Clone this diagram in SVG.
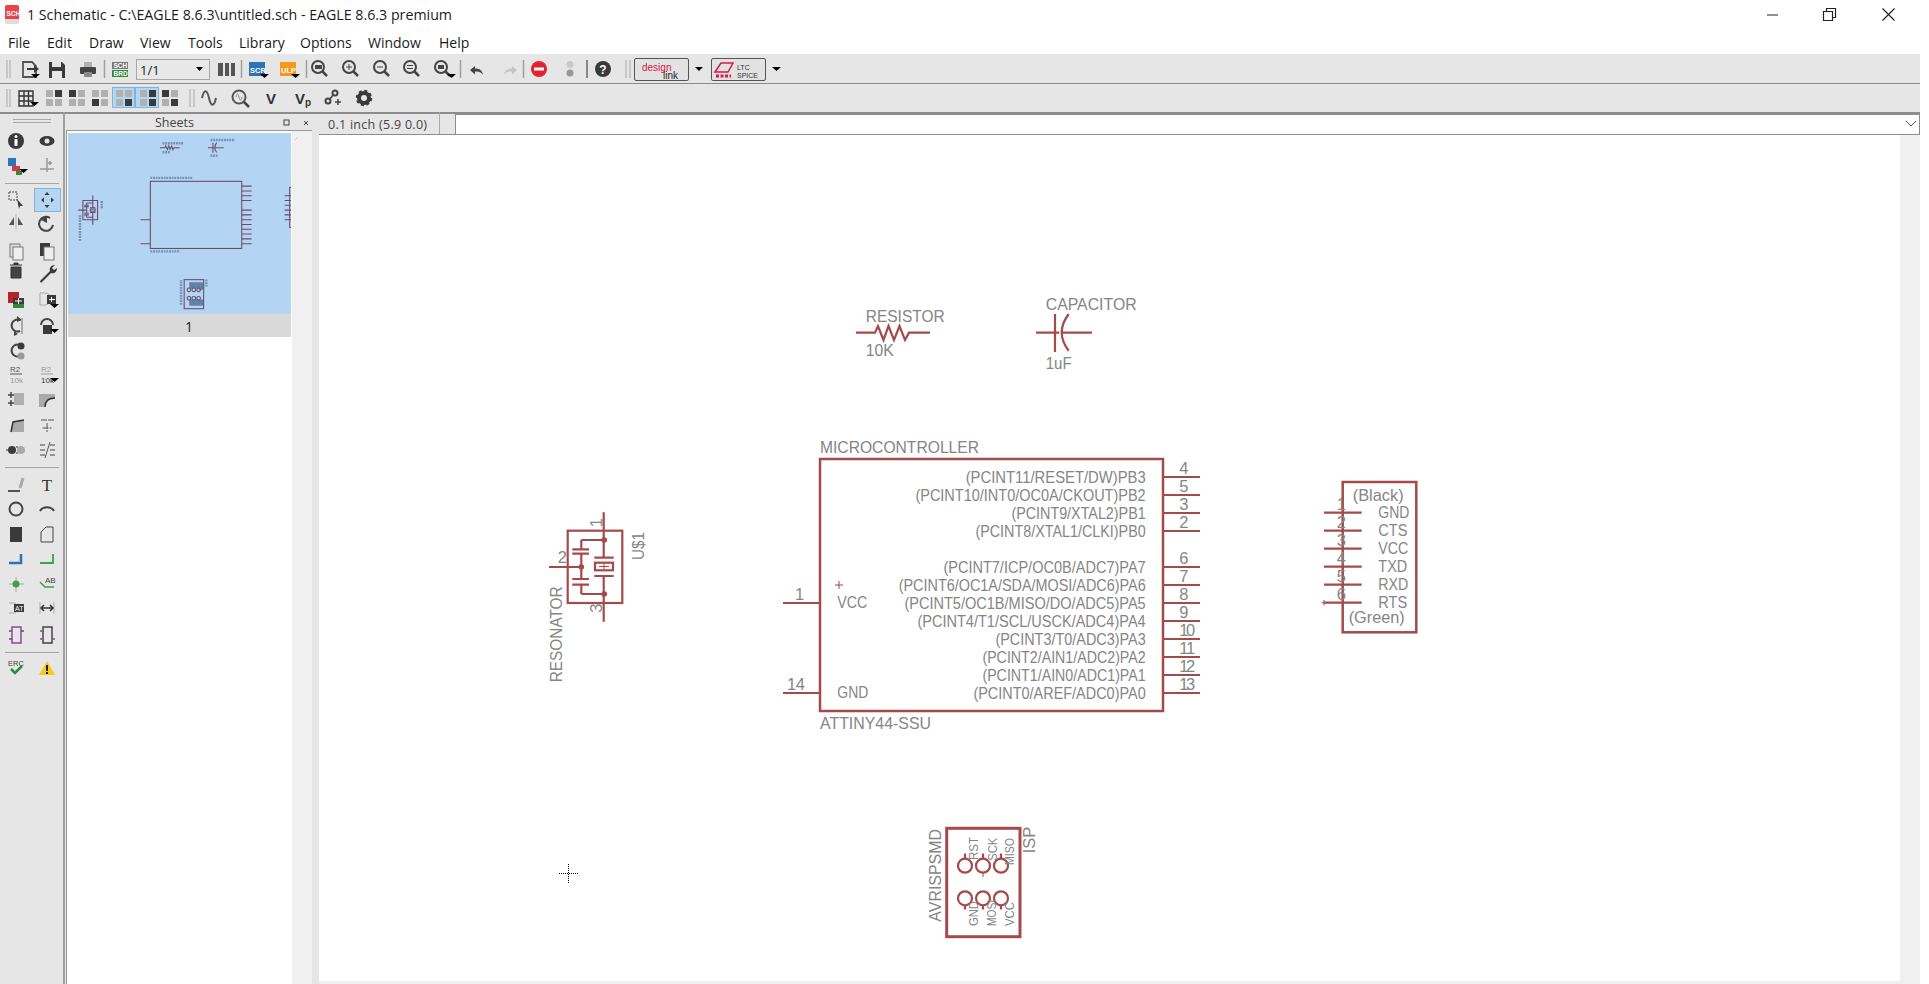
<svg xmlns="http://www.w3.org/2000/svg" width="1929" height="984" viewBox="0 0 1929 984">
<style>
text{font-family:"Liberation Sans",Arial,sans-serif}
.ui{font-family:"Open Sans","Noto Sans",sans-serif;fill:#1a1a1a;font-size:14px}
.p{fill:none;stroke:#a54a4a;stroke-width:2.2}
.pt{fill:none;stroke:#a54a4a;stroke-width:1}
.t{fill:#858585;font-size:16.5px}
.t2{fill:#858585;font-size:13px}
.sep{stroke:#a0a0a0;stroke-width:1.5}
.grip{stroke:#a8a8a8;stroke-width:1}
.dk{fill:#3a3a3a}
.dkl{fill:none;stroke:#3a3a3a;stroke-width:2}
.gl{fill:none;stroke:#999;stroke-width:1.5}
.lg{fill:#b0b0b0}
.tri{fill:#000}
.th{fill:none;stroke:#6e4a6e;stroke-width:4}
.tht{fill:none;stroke:#6f95b8;stroke-width:9;stroke-dasharray:7 3}
.hl{fill:#b5d5f0;stroke:#7db5e0;stroke-width:1}
.ic{font-weight:bold}
</style>
<defs>
<clipPath id="thumbclip"><rect x="68" y="133" width="223" height="181"/></clipPath>
<g id="quad"><rect x="0" y="0" width="7" height="7" class="lg"/><rect x="9" y="0" width="7" height="7" class="lg"/><rect x="0" y="9" width="7" height="7" class="lg"/><rect x="9" y="9" width="7" height="7" class="lg"/></g>
<g id="mag"><circle cx="-2" cy="-2" r="6" fill="none" stroke="#444" stroke-width="2"/><path d="M2.500 2.500L7 7" stroke="#444" stroke-width="2.500"/></g>
</defs>
<rect width="1929" height="984" fill="#fff"/>

<g id="titlebar">
<rect x="5" y="5" width="14" height="18" rx="2" fill="#e8454a"/><path d="M5 19h14v3a2 2 0 0 1-2 2H7a2 2 0 0 1-2-2z" fill="#ddd"/>
<text x="6.500" y="16" font-size="6.500" fill="#fff" class="ic">SCH</text>
<text x="27" y="20" class="ui" textLength="425" lengthAdjust="spacingAndGlyphs">1 Schematic - C:\EAGLE 8.6.3\untitled.sch - EAGLE 8.6.3 premium</text>
<path d="M1767 15h11" stroke="#222" stroke-width="1"/>
<path d="M1823.500 11.500h9v9h-9zM1826.500 11.500v-3h9v9h-3" fill="none" stroke="#222" stroke-width="1.200"/>
<path d="M1882.500 8.500l12 12M1894.500 8.500l-12 12" stroke="#222" stroke-width="1.200"/>
</g>
<g id="menubar">
<text x="8" y="48" class="ui">File</text><text x="47" y="48" class="ui">Edit</text><text x="89" y="48" class="ui">Draw</text><text x="140" y="48" class="ui">View</text><text x="188" y="48" class="ui">Tools</text><text x="239" y="48" class="ui">Library</text><text x="300" y="48" class="ui">Options</text><text x="368" y="48" class="ui">Window</text><text x="439" y="48" class="ui">Help</text>
</g>

<g id="chrome">
<rect x="0" y="54" width="1920" height="58" fill="#e6e6e6"/>
<rect x="0" y="83" width="1920" height="1" fill="#8c8c8c"/>
<rect x="0" y="112" width="1920" height="2" fill="#8c8c8c"/>
<rect x="0" y="114" width="1920" height="870" fill="#e6e6e6"/>
<rect x="63" y="112" width="2" height="872" fill="#a0a0a0"/>
<rect x="66" y="130" width="226" height="854" fill="#fff"/>
<rect x="292" y="131" width="20" height="853" fill="#f0f0f0"/>
<path d="M66 130.500H312" stroke="#999"/><path d="M66.500 130V984" stroke="#999"/>
<text x="155" y="127" class="ui" style="fill:#444;font-size:12.500px">Sheets</text>
<rect x="284" y="120" width="5" height="5" fill="none" stroke="#444"/><path d="M304 121l4 4m0-4l-4 4" stroke="#444"/>
<text x="328" y="129" class="ui" style="fill:#444;font-size:12.500px" textLength="99">0.1 inch (5.9 0.0)</text>
<rect x="439" y="112" width="1" height="23" fill="#aaa"/>
<rect x="455.500" y="114.500" width="1464" height="20" fill="#fff" stroke="#8c8c8c"/>
<path d="M1906 121l5 5 5-5" fill="none" stroke="#555"/>
<path d="M319 134.500H456" stroke="#8c8c8c"/>
<rect x="319" y="135" width="1581" height="846" fill="#fff"/>
<rect x="1900" y="135" width="20" height="849" fill="#f0f0f0"/>
<rect x="319" y="981" width="1601" height="3" fill="#f0f0f0"/>
</g>

<g id="toolbar1">
<path d="M7 60v18M10 60v18" class="grip"/>
<path d="M23 62h9l4 4v11H23z" fill="none" stroke="#555" stroke-width="1.800"/><path d="M27 68h7v-3l5 4-5 4v-3h-7z" class="dk"/><path d="M31 74h9l-4.500 4z" class="tri"/>
<path d="M49 62h13l3 3v13H49z" class="dk"/><rect x="52" y="62" width="9" height="5" fill="#e6e6e6"/><rect x="52" y="71" width="10" height="7" fill="#e6e6e6"/>
<path d="M84 62h8v5h-8z" class="lg"/><rect x="80" y="67" width="16" height="7" rx="1" fill="#444"/><rect x="84" y="72" width="8" height="5" fill="#888"/>
<path d="M104.500 60v18" class="sep"/>
<rect x="112" y="62" width="16" height="7" fill="#777"/><rect x="112" y="70" width="16" height="7" fill="#2f8a3c"/>
<text x="113.500" y="68" font-size="6.500" fill="#fff" class="ic">SCH</text><text x="113.500" y="76" font-size="6.500" fill="#fff" class="ic">BRD</text>
<rect x="136.500" y="59.500" width="73" height="20" fill="#e8e8e8" stroke="#a8a8a8"/>
<text x="140" y="75" class="ui" style="font-size:13px">1/1</text><path d="M196 67h7l-3.500 4z" class="tri"/>
<path d="M218 63h5v13h-5zM225 63h4v13h-4zM231 63h4v13h-4z" fill="#555"/>
<path d="M241.500 60v18" class="sep"/>
<rect x="249" y="62" width="16" height="14" fill="#2f72b8"/><text x="250" y="73" font-size="7.500" fill="#fff" class="ic">SCR</text><path d="M260 74h9l-4.500 4z" class="tri"/>
<rect x="280" y="62" width="16" height="14" fill="#f39a1c"/><text x="281" y="73" font-size="7.500" fill="#fff" class="ic">ULP</text><path d="M291 74h9l-4.500 4z" class="tri"/>
<path d="M306.500 60v18" class="sep"/>
<use href="#mag" x="320" y="69"/><rect x="315" y="65" width="7" height="4" fill="#444"/>
<use href="#mag" x="351" y="69"/><path d="M346 67h6M349 64v6" stroke="#444"/>
<use href="#mag" x="382" y="69"/><path d="M377 67h6" stroke="#444"/>
<use href="#mag" x="412" y="69"/><path d="M407 65.500h6M407 68.500h6" stroke="#444"/>
<use href="#mag" x="443" y="69"/><rect x="438" y="65" width="6" height="4" fill="#444"/><path d="M447 74h9l-4.500 4z" class="tri"/>
<path d="M460.500 60v18" class="sep"/>
<path d="M470 70l5-4v2.500c5 0 7 2 8 6-2.500-2.500-4-3-8-3v3z" fill="#444"/>
<path d="M517 70l-5-4v2.500c-5 0-7 2-8 6 2.500-2.500 4-3 8-3v3z" fill="#c4c4c4"/>
<path d="M523.500 60v18" class="sep"/>
<circle cx="539" cy="69" r="8" fill="#e2232e"/><rect x="534" y="67.500" width="10" height="3" fill="#fff"/>
<circle cx="570" cy="64.500" r="3.500" fill="#c8c8c8"/><circle cx="570" cy="73" r="3.500" fill="#999"/>
<path d="M587 60v18" stroke="#888" stroke-width="2"/>
<circle cx="603" cy="69" r="8" fill="#3a3a3a"/><text x="603" y="73.500" font-size="12" fill="#fff" text-anchor="middle" class="ic">?</text>
<path d="M626 60v18M630 60v18" class="grip"/>
<rect x="634.500" y="58.500" width="54" height="22" rx="1.500" fill="#e2e2e2" stroke="#555"/>
<text x="642" y="71" font-size="10" fill="#d8174a">design</text><text x="663" y="79" font-size="10" fill="#222">link</text>
<path d="M695 67h8l-4 4z" class="tri"/>
<rect x="711.500" y="58.500" width="54" height="22" rx="1.500" fill="#e2e2e2" stroke="#555"/>
<path d="M715 72l6-9h12l-5 9z" fill="none" stroke="#d8174a" stroke-width="1.500"/><path d="M716 76h15" stroke="#d8174a" stroke-width="3" stroke-dasharray="3 1.500"/>
<text x="737" y="70" font-size="7" fill="#333">LTC</text><text x="737" y="78" font-size="7" fill="#333">SPICE</text>
<path d="M772 67h9l-4.500 4z" class="tri"/>
</g>

<g id="toolbar2">
<path d="M7 89v18M10 89v18" class="grip"/>
<path d="M19 91h14v15H19zM19 96h14M19 101h14M24 91v15M28.500 91v15" fill="none" stroke="#333" stroke-width="1.400"/><path d="M30 102h9l-4.500 4z" class="tri"/>
<use href="#quad" x="46" y="90"/><rect x="55" y="90" width="7" height="7" class="dk"/>
<use href="#quad" x="69" y="90"/><rect x="69" y="90" width="7" height="7" class="dk"/>
<use href="#quad" x="92" y="90"/><rect x="92" y="99" width="7" height="7" class="dk"/>
<rect x="112.500" y="87.500" width="22" height="20" class="hl"/><use href="#quad" x="116" y="90"/><rect x="125" y="99" width="7" height="7" class="dk"/>
<rect x="135.500" y="87.500" width="23" height="20" class="hl"/><use href="#quad" x="140" y="90"/><rect x="149" y="90" width="7" height="7" class="dk"/><rect x="149" y="99" width="7" height="7" class="dk"/>
<use href="#quad" x="162" y="90"/><rect x="162" y="90" width="7" height="7" class="dk"/><rect x="171" y="99" width="7" height="7" class="dk"/>
<path d="M190 89v18M194 89v18" class="grip"/>
<path d="M202 98c2-9 5-9 7 0s5 9 7 0" fill="none" stroke="#555" stroke-width="2"/>
<circle cx="239" cy="97" r="6.500" fill="none" stroke="#555" stroke-width="2"/><path d="M236 97c1-4 2-4 3 0s2 4 3 0" fill="none" stroke="#888"/><path d="M244 102l5 5" stroke="#444" stroke-width="2.500"/>
<text x="271" y="104" font-size="15" fill="#333" text-anchor="middle" class="ic">V</text>
<text x="295" y="104" font-size="15" fill="#333" class="ic">V</text><text x="305" y="106" font-size="10" fill="#333" class="ic">p</text>
<circle cx="328" cy="101" r="2.500" fill="none" stroke="#444" stroke-width="2"/><circle cx="335" cy="93" r="2.500" fill="none" stroke="#444" stroke-width="2"/><path d="M330 99l3-4M335 102h6M338 99v6" stroke="#444" stroke-width="1.500"/>
<circle cx="364" cy="98" r="5" fill="none" stroke="#3a3a3a" stroke-width="4"/><circle cx="364" cy="98" r="7" fill="none" stroke="#3a3a3a" stroke-width="2.500" stroke-dasharray="3 2.500"/>
</g>

<g id="lefttoolbar">
<path d="M13 119.500h38M13 122.500h38" class="grip"/>
<circle cx="16" cy="141" r="8" class="dk"/><rect x="14.500" y="139" width="3" height="7" fill="#fff"/><circle cx="16" cy="136.500" r="1.500" fill="#fff"/>
<ellipse cx="47" cy="141" rx="7.500" ry="5" class="dk"/><circle cx="47" cy="141" r="2.500" fill="#e6e6e6"/>
<rect x="8" y="158" width="8" height="8" fill="#2f72b8"/><rect x="12" y="166" width="8" height="5" fill="#d8344a"/><rect x="16" y="171" width="6" height="4" fill="#2f8a3c"/><path d="M19 169h9l-4.500 4z" class="tri"/>
<path d="M47 158v14M40 169h14M48 163h4M50 161v4" class="gl"/>
<path d="M5 183.500h54" class="grip"/>
<rect x="9" y="192" width="8" height="8" fill="none" stroke="#444" stroke-dasharray="2 1"/><path d="M17 199l6 7-3 0-1 3z" class="dk"/>
<rect x="34.500" y="188.500" width="26" height="23" class="hl"/><path d="M47 192l2.500 3h-5zM47 208l2.500-3h-5zM41 200l3-2.500v5zM54 200l-3-2.500v5z" class="dk"/>
<path d="M14 225v-8l-5 8zM18 225v-8l5 8z" fill="#555"/><path d="M16 214v15" stroke="#ccc" stroke-width="2"/>
<path d="M53 225a7 7 0 1 1-3-7" fill="none" stroke="#444" stroke-width="2"/><path d="M41 220l6-4v7z" fill="#444"/>
<rect x="10" y="244" width="10" height="13" fill="#ddd" stroke="#777"/><rect x="13" y="247" width="10" height="13" fill="#eee" stroke="#777"/>
<rect x="40" y="243" width="10" height="13" class="dk"/><rect x="44" y="247" width="10" height="13" fill="#eee" stroke="#777"/>
<path d="M10 265h12M14 265v-2h4v2M11 267h10v11H11z" fill="#444" stroke="#333"/>
<path d="M40 281l10-10c-1-3 1-6 5-6l-3 3 2 2 3-2c0 4-3 6-6 5l-10 10z" class="dk"/>
<rect x="8" y="292" width="11" height="11" fill="#b8242c"/><rect x="13" y="298" width="11" height="10" fill="#2f8a3c"/><rect x="13" y="298" width="11" height="6" class="dk"/><path d="M15 301h7M18.500 298v6" stroke="#fff"/>
<path d="M40 293h5a6 6 0 0 1 0 12h-5z" fill="none" stroke="#aaa"/><rect x="47" y="295" width="9" height="9" class="dk"/><path d="M49 299.500h6M51.500 297v5" stroke="#fff"/><path d="M50 304h9l-4.500 4z" class="tri"/>
<path d="M20 320a6 6 0 1 0 0 11" fill="none" stroke="#444" stroke-width="2"/><path d="M17 316l5 4-5 2zM14 331l4 3-4 2z" fill="#444"/><path d="M22 318v16" stroke="#aaa" stroke-width="2"/>
<path d="M41 325a6 6 0 0 1 12 0" fill="none" stroke="#444" stroke-width="2"/><rect x="43" y="325" width="9" height="9" class="dk"/><path d="M50 329h9l-4.500 4z" class="tri"/>
<path d="M20 345a6 6 0 1 0 0 11" fill="none" stroke="#444" stroke-width="2"/><circle cx="21" cy="346" r="3.500" class="dk"/><circle cx="21" cy="356" r="3.500" fill="#999"/>
<text x="10" y="372" font-size="8" fill="#555">R2</text><path d="M10 374h12" stroke="#555"/><text x="10" y="383" font-size="8" fill="#999">10k</text>
<text x="41" y="372" font-size="8" fill="#999">R2</text><path d="M41 374h12" stroke="#999"/><text x="41" y="383" font-size="8" fill="#333">10k</text><path d="M50 378h9l-4.500 4z" class="tri"/>
<rect x="14" y="393" width="10" height="12" fill="#b0b0b0"/><path d="M8 395h6M11 392v6M8 403h6M11 400v6" stroke="#444" stroke-width="1.500"/>
<path d="M39 394h16v5c-6 0-10 3-10 8h-6z" fill="#aaa"/><path d="M45 407c0-6 4-9 10-9" fill="none" stroke="#333" stroke-width="1.500"/>
<path d="M11 432l2-10 11-2v12z" fill="#aaa"/><path d="M11 432l2-10 11-2" fill="none" stroke="#333" stroke-width="1.500"/>
<path d="M41 420h14M47 423v9M42.500 428h9" stroke="#555" stroke-dasharray="6 1"/>
<circle cx="12" cy="450" r="4" class="dk"/><path d="M8 450h-2M16 447h2M16 453h2" stroke="#333"/><circle cx="21" cy="450" r="4" fill="#aaa"/>
<path d="M40 445h5M40 450h5M40 455h5M50 445h5M50 450h5M50 455h5" stroke="#444"/><path d="M45 458l5-16" stroke="#555"/>
<path d="M5 467.500h54" class="grip"/>
<path d="M8 491h12" stroke="#222" stroke-width="1.500"/><path d="M20 488l3-10" stroke="#aaa" stroke-width="3"/>
<text x="47" y="491" font-size="17" fill="#333" text-anchor="middle" style="font-family:'Liberation Serif',serif">T</text>
<circle cx="16" cy="509" r="6.500" fill="none" stroke="#444" stroke-width="2"/>
<path d="M40 511c3-5 11-5 14 0" fill="none" stroke="#444" stroke-width="2"/>
<rect x="10" y="527" width="12" height="15" class="dk"/>
<path d="M41 542v-10l5-5h7v15z" fill="none" stroke="#444"/>
<path d="M9 563h12v-9" fill="none" stroke="#2f72b8" stroke-width="2.500"/>
<path d="M40 563h13v-9" fill="none" stroke="#3ea04a" stroke-width="1.800"/>
<path d="M9 584h15M16 577v15" stroke="#aaa"/><circle cx="16" cy="584" r="3.500" fill="#3ea04a"/>
<path d="M40 582l5 5h9" fill="none" stroke="#3ea04a" stroke-width="1.500"/><text x="45" y="583" font-size="8" fill="#444">AB</text>
<path d="M9 603h6a6 6 0 0 1 0 10H9" fill="none" stroke="#aaa"/><rect x="14" y="604" width="10" height="8" class="dk"/><text x="15" y="611" font-size="7" fill="#fff">AT</text>
<path d="M40 602v12M54 602v12" stroke="#aaa"/><path d="M41 608h12M44 605l-3 3 3 3M50 605l3 3-3 3" fill="none" stroke="#333" stroke-width="1.500"/>
<rect x="12" y="627" width="9" height="16" fill="none" stroke="#8a4a9a" stroke-width="1.500"/><path d="M9 631h3M21 631h3M9 639h3" stroke="#555" stroke-width="1.500"/>
<rect x="43" y="627" width="9" height="16" fill="none" stroke="#444" stroke-width="1.500"/><path d="M40 631h3M40 639h3M52 639h3" stroke="#8a4a9a" stroke-width="1.500"/>
<path d="M5 652.500h54" class="grip"/>
<text x="8" y="666" font-size="7.500" fill="#444">ERC</text><path d="M11 669l4 4 7-7" fill="none" stroke="#2f8a3c" stroke-width="2.500"/>
<path d="M47 661l8 14H39z" fill="#f8c81c"/><rect x="46" y="665" width="2" height="6" fill="#222"/><rect x="46" y="672" width="2" height="2" fill="#222"/>
</g>

<g id="sheets-panel">
<rect x="68" y="133" width="223" height="181" fill="#b3d4f2"/>
<rect x="68" y="314" width="223" height="23" fill="#d9d9d9"/>
<text x="189" y="332" font-size="14" fill="#222" text-anchor="middle" class="ui">1</text>
<path d="M295 140l3-3" stroke="#ccc"/>
<g clip-path="url(#thumbclip)"><g transform="translate(-68.200 59) scale(.2665)">
<path class="tht" d="M820 446h159M820 722h111M866 316h79M866 350h28M1046 304h91M1046 363h26M556 682V586M638 560V532"/>
<path fill="none" stroke="#5c84a8" stroke-width="18" d="M975 838V861M993 838V861M1011 838V866M975 902V926M993 902V926M1011 902V926"/>
<path class="tht" d="M935 922V829M1030 854V827"/>
<path class="th" d="M856 333h19l3-7 6 14 5-14 5 14 6-14 5 14 4-7h21M1036 333h23M1062 333h33M1055 314v38M1069 314q-14 19 0 37"/>
<rect class="th" x="820" y="459" width="343" height="252"/>
<path class="th" d="M783 603h37M783 693h37M1163 477h37M1163 495h37M1163 513h37M1163 531h37M1163 567h37M1163 585h37M1163 603h37M1163 621h37M1163 639h37M1163 657h37M1163 675h37M1163 693h37"/>
<path class="th" d="M567 531h55v72h-55zM604 512v45M604 576v46M549 567h32M581 540h23M581 540v9M581 554v25M581 585v9M581 594h23M572 549h17M572 554h17M572 579h17M572 585h17M594 558h20M594 576h20"/><rect class="th" x="595" y="563" width="18" height="8"/>
<rect class="th" x="1343" y="482" width="73" height="150"/><path class="th" d="M1324 513h38M1324 531h38M1324 549h38M1324 567h38M1324 585h38M1324 603h38"/>
<rect class="th" x="947" y="828" width="73" height="109"/>
<g class="th"><circle cx="965" cy="866" r="7"/><circle cx="983" cy="866" r="7"/><circle cx="1001" cy="866" r="7"/><circle cx="965" cy="898" r="7"/><circle cx="983" cy="898" r="7"/><circle cx="1001" cy="898" r="7"/></g>
</g></g>
</g>

<g id="connectors">
<path class="p" d="M783 603h37M783 693h37M1163 477h37M1163 495h37M1163 513h37M1163 531h37M1163 567h37M1163 585h37M1163 603h37M1163 621h37M1163 639h37M1163 657h37M1163 675h37M1163 693h37"/>
<path class="p" d="M1324 512.700h37.700M1324 530.700h37.700M1324 548.700h37.700M1324 566.700h37.700M1324 584.700h37.700M1324 602.700h37.700"/>
</g>

<g id="resistor">
<path class="p" d="M856 332.700h19l3-6.700 5.500 14 5-14 5.500 14 5.500-14 5.500 14 4-7.300h21"/>
<text class="t" x="865.700" y="322" textLength="79" lengthAdjust="spacingAndGlyphs">RESISTOR</text>
<text class="t" x="865.700" y="356" textLength="28" lengthAdjust="spacingAndGlyphs">10K</text>
</g>
<g id="capacitor">
<path class="p" d="M1036 332.700h23.300M1055 314v38M1068.700 314q-14 18.700 0 36.700M1061.700 332.700H1092"/>
<text class="t" x="1045.700" y="310" textLength="91" lengthAdjust="spacingAndGlyphs">CAPACITOR</text>
<text class="t" x="1045.700" y="369" textLength="26" lengthAdjust="spacingAndGlyphs">1uF</text>
</g>
<g id="microcontroller">
<rect class="p" x="820" y="459" width="343" height="252" style="stroke-width:2.500"/>
<text class="t" x="820" y="452.700" textLength="159" lengthAdjust="spacingAndGlyphs">MICROCONTROLLER</text>
<text class="t" x="820" y="728.700" textLength="111" lengthAdjust="spacingAndGlyphs">ATTINY44-SSU</text>
<path class="pt" d="M835 585h8M839 581v8"/>
<text class="t" x="837.300" y="608" textLength="30" lengthAdjust="spacingAndGlyphs">VCC</text>
<text class="t" x="837.300" y="698" textLength="31" lengthAdjust="spacingAndGlyphs">GND</text>
<text class="t" x="795" y="600">1</text><text class="t" x="787" y="690" textLength="18">14</text>
<text class="t" x="965.700" y="483" textLength="180" lengthAdjust="spacingAndGlyphs">(PCINT11/RESET/DW)PB3</text>
<text class="t" x="915.400" y="501" textLength="230.300" lengthAdjust="spacingAndGlyphs">(PCINT10/INT0/OC0A/CKOUT)PB2</text>
<text class="t" x="1011.400" y="519" textLength="134.300" lengthAdjust="spacingAndGlyphs">(PCINT9/XTAL2)PB1</text>
<text class="t" x="975.400" y="537" textLength="170.300" lengthAdjust="spacingAndGlyphs">(PCINT8/XTAL1/CLKI)PB0</text>
<text class="t" x="943.400" y="573" textLength="202.300" lengthAdjust="spacingAndGlyphs">(PCINT7/ICP/OC0B/ADC7)PA7</text>
<text class="t" x="898.700" y="591" textLength="247" lengthAdjust="spacingAndGlyphs">(PCINT6/OC1A/SDA/MOSI/ADC6)PA6</text>
<text class="t" x="904.400" y="609" textLength="241.300" lengthAdjust="spacingAndGlyphs">(PCINT5/OC1B/MISO/DO/ADC5)PA5</text>
<text class="t" x="917.400" y="627" textLength="228.300" lengthAdjust="spacingAndGlyphs">(PCINT4/T1/SCL/USCK/ADC4)PA4</text>
<text class="t" x="995.400" y="645" textLength="150.300" lengthAdjust="spacingAndGlyphs">(PCINT3/T0/ADC3)PA3</text>
<text class="t" x="982.400" y="663" textLength="163.300" lengthAdjust="spacingAndGlyphs">(PCINT2/AIN1/ADC2)PA2</text>
<text class="t" x="982.400" y="681" textLength="163.300" lengthAdjust="spacingAndGlyphs">(PCINT1/AIN0/ADC1)PA1</text>
<text class="t" x="973.400" y="699" textLength="172.300" lengthAdjust="spacingAndGlyphs">(PCINT0/AREF/ADC0)PA0</text>
<text class="t" x="1179.300" y="474">4</text><text class="t" x="1179.300" y="492">5</text><text class="t" x="1179.300" y="510">3</text><text class="t" x="1179.300" y="528">2</text><text class="t" x="1179.300" y="564">6</text><text class="t" x="1179.300" y="582">7</text><text class="t" x="1179.300" y="600">8</text><text class="t" x="1179.300" y="618">9</text>
<text class="t" x="1179.300" y="636" textLength="16">10</text><text class="t" x="1179.300" y="654" textLength="16">11</text><text class="t" x="1179.300" y="672" textLength="16">12</text><text class="t" x="1179.300" y="690" textLength="16">13</text>
</g>
<g id="resonator">
<rect class="p" x="567.700" y="530.700" width="54.600" height="72.300"/>
<path class="p" d="M603.700 512.300v45.400M603.700 576v45.700M549 567h32.300M581.300 540h22.400M581.300 540v9.300M581.300 553.700v25.300M581.300 584.700v9.300M581.300 594h22.400M572.300 549.300H589M572.300 553.700H589M572.300 579H589M572.300 584.700H589M594.300 557.700h19.400M594.300 576h19.400"/>
<path class="pt" d="M599 566.500h10M604 563.500v6"/>
<rect class="p" x="595" y="562.700" width="18" height="7.600"/>
<circle cx="604.300" cy="540" r="2.800" fill="#a54a4a"/><circle cx="581.300" cy="567" r="2.800" fill="#a54a4a"/><circle cx="604.300" cy="594" r="2.800" fill="#a54a4a"/>
<text class="t" transform="translate(602 527.300) rotate(-90)">1</text>
<text class="t" x="557.700" y="563.300">2</text>
<text class="t" transform="translate(602 612.700) rotate(-90)">3</text>
<text class="t" transform="translate(644 560) rotate(-90)" textLength="28" lengthAdjust="spacingAndGlyphs">U$1</text>
<text class="t" transform="translate(562 682.300) rotate(-90)" textLength="96" lengthAdjust="spacingAndGlyphs">RESONATOR</text>
</g>
<g id="ftdi">
<rect class="p" x="1342.700" y="482" width="73.600" height="150.300" style="stroke-width:2.500"/>
<path class="pt" d="M1321.500 602.700h5M1324 600v5.500"/>
<text class="t" x="1352.700" y="500.700" textLength="51" lengthAdjust="spacingAndGlyphs">(Black)</text>
<text class="t" x="1348.700" y="623.300" textLength="56" lengthAdjust="spacingAndGlyphs">(Green)</text>
<text class="t" x="1378.300" y="517.700" textLength="31" lengthAdjust="spacingAndGlyphs">GND</text>
<text class="t" x="1378.300" y="535.700" textLength="29" lengthAdjust="spacingAndGlyphs">CTS</text>
<text class="t" x="1378.300" y="553.700" textLength="30" lengthAdjust="spacingAndGlyphs">VCC</text>
<text class="t" x="1378.300" y="571.700" textLength="29" lengthAdjust="spacingAndGlyphs">TXD</text>
<text class="t" x="1378.300" y="589.700" textLength="30" lengthAdjust="spacingAndGlyphs">RXD</text>
<text class="t" x="1378.300" y="607.700" textLength="29" lengthAdjust="spacingAndGlyphs">RTS</text>
<text class="t" x="1336.700" y="510">1</text><text class="t" x="1336.700" y="528">2</text><text class="t" x="1336.700" y="546">3</text><text class="t" x="1336.700" y="564">4</text><text class="t" x="1336.700" y="582">5</text><text class="t" x="1336.700" y="600">6</text>
</g>
<g id="isp">
<rect class="p" x="946.700" y="828.300" width="73.300" height="108.400" style="stroke-width:3"/>
<g class="p"><circle cx="965" cy="865.700" r="7"/><circle cx="983" cy="865.700" r="7"/><circle cx="1001" cy="865.700" r="7"/><circle cx="965" cy="898.300" r="7"/><circle cx="983" cy="898.300" r="7"/><circle cx="1001" cy="898.300" r="7"/></g>
<path class="p" d="M965 853.500v5M983 853.500v5M1001 853.500v5M965 905.500v4M983 905.500v4M1001 905.500v4"/>
<path class="pt" d="M983 872v5"/>
<text class="t" transform="translate(940.700 921.700) rotate(-90)" textLength="92.700" lengthAdjust="spacingAndGlyphs">AVRISPSMD</text>
<text class="t" transform="translate(1035 853.300) rotate(-90)" textLength="26.700" lengthAdjust="spacingAndGlyphs">ISP</text>
<text class="t2" transform="translate(978.300 860) rotate(-90)" textLength="23" lengthAdjust="spacingAndGlyphs">RST</text>
<text class="t2" transform="translate(996.700 860.700) rotate(-90)" textLength="23" lengthAdjust="spacingAndGlyphs">SCK</text>
<text class="t2" transform="translate(1014.300 865) rotate(-90)" textLength="27" lengthAdjust="spacingAndGlyphs">MISO</text>
<text class="t2" transform="translate(978.300 926) rotate(-90)" textLength="25" lengthAdjust="spacingAndGlyphs">GND</text>
<text class="t2" transform="translate(996 926) rotate(-90)" textLength="26" lengthAdjust="spacingAndGlyphs">MOSI</text>
<text class="t2" transform="translate(1014 926) rotate(-90)" textLength="24" lengthAdjust="spacingAndGlyphs">VCC</text>
</g>
<path id="crosshair" d="M559 873.500h19M568.500 864v19" stroke="#000" stroke-width="1" stroke-dasharray="1 1" fill="none"/>
</svg>
